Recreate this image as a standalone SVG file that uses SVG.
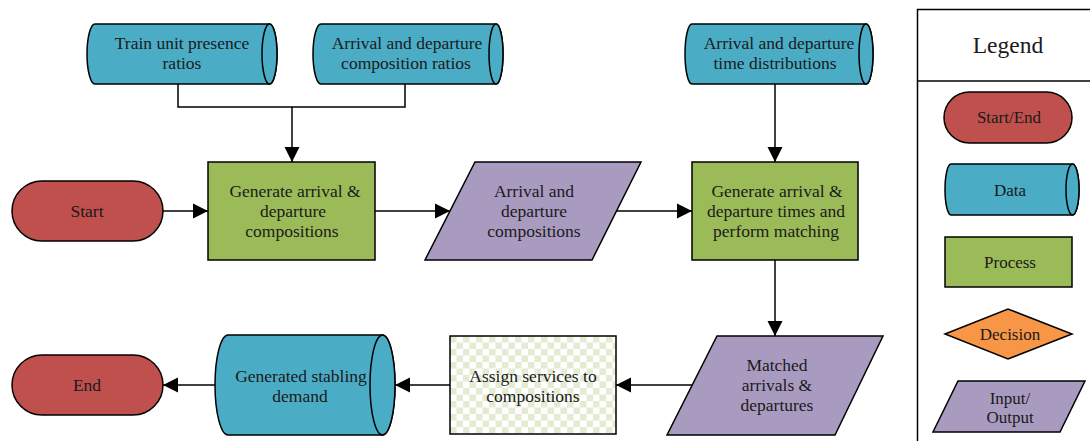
<svg xmlns="http://www.w3.org/2000/svg" width="1090" height="441" viewBox="0 0 1090 441">
  <defs>
    <style>
      .shape { stroke: #000; stroke-width: 1.5; stroke-linejoin: miter; }
      .term { fill: #C0504D; }
      .data { fill: #4BACC6; }
      .proc { fill: #9BBB59; }
      .dec { fill: #F79646; }
      .io { fill: #A99BC0; }
      .conn { fill: none; stroke: #000; stroke-width: 1.5; }
      .lbl { font-size: 17.5px; fill: #1a1a1a; text-anchor: middle; }
      .key { font-size: 17px; }
      .title { font-size: 23.5px; }
    </style>
    <marker id="arrow" markerUnits="userSpaceOnUse" markerWidth="16" markerHeight="16" viewBox="0 0 16 16" refX="15" refY="8" orient="auto">
      <path d="M0,0.5 L15,8 L0,15.5 Z" fill="#000"/>
    </marker>
    <pattern id="checker" patternUnits="userSpaceOnUse" x="450" y="336" width="13" height="13">
      <rect width="13" height="13" fill="#fff"/>
      <rect width="6.5" height="6.5" fill="#E3EBD2"/>
      <rect x="6.5" y="6.5" width="6.5" height="6.5" fill="#E3EBD2"/>
    </pattern>
  </defs>

  <!-- connectors -->
  <g id="connectors">
    <path class="conn" d="M178,84 V107 H405 V84"/>
    <path class="conn" d="M292,107 V162" marker-end="url(#arrow)"/>
    <path class="conn" d="M163,211 H208" marker-end="url(#arrow)"/>
    <path class="conn" d="M375,211 H450" marker-end="url(#arrow)"/>
    <path class="conn" d="M617,211 H692" marker-end="url(#arrow)"/>
    <path class="conn" d="M775,84 V162" marker-end="url(#arrow)"/>
    <path class="conn" d="M775,260 V336" marker-end="url(#arrow)"/>
    <path class="conn" d="M692,385 H616" marker-end="url(#arrow)"/>
    <path class="conn" d="M450,385 H395" marker-end="url(#arrow)"/>
    <path class="conn" d="M215,385 H163" marker-end="url(#arrow)"/>
  </g>

  <g font-family="Liberation Serif, Times New Roman, serif" class="lbl">
  <!-- data stores -->
  <g id="data-presence">
    <path class="shape data" d="M95,24 H269.5 A7.5,30 0 0 1 269.5,84 H95 A8,30 0 0 1 95,24 Z"/>
    <ellipse class="shape data" cx="269.5" cy="54" rx="7.5" ry="30"/>
    <text x="182" y="49">Train unit presence</text>
    <text x="182" y="69">ratios</text>
  </g>
  <g id="data-composition">
    <path class="shape data" d="M321,24 H496 A7,30 0 0 1 496,84 H321 A8,30 0 0 1 321,24 Z"/>
    <ellipse class="shape data" cx="496" cy="54" rx="7" ry="30"/>
    <text x="407" y="49">Arrival and departure</text>
    <text x="406" y="69">composition ratios</text>
  </g>
  <g id="data-times">
    <path class="shape data" d="M692,24 H866 A7,30 0 0 1 866,84 H692 A7,30 0 0 1 692,24 Z"/>
    <ellipse class="shape data" cx="866" cy="54" rx="7" ry="30"/>
    <text x="779" y="49">Arrival and departure</text>
    <text x="775" y="69">time distributions</text>
  </g>

  <!-- terminals -->
  <g id="start">
    <rect class="shape term" x="12" y="181" width="151" height="60" rx="30"/>
    <text x="87" y="217">Start</text>
  </g>
  <g id="end">
    <rect class="shape term" x="12" y="355" width="151" height="60" rx="30"/>
    <text x="87" y="391">End</text>
  </g>

  <!-- processes -->
  <g id="gen-compositions">
    <rect class="shape proc" x="208" y="162" width="167" height="98"/>
    <text x="295" y="197">Generate arrival &amp;</text>
    <text x="293" y="217">departure</text>
    <text x="292" y="237">compositions</text>
  </g>
  <g id="gen-times">
    <rect class="shape proc" x="692" y="162" width="166" height="98"/>
    <text x="777" y="197">Generate arrival &amp;</text>
    <text x="776" y="217">departure times and</text>
    <text x="776" y="237">perform matching</text>
  </g>
  <g id="assign-services">
    <rect class="shape" fill="url(#checker)" x="450" y="336" width="166" height="98"/>
    <text x="533" y="382">Assign services to</text>
    <text x="533" y="402">compositions</text>
  </g>

  <!-- input / output -->
  <g id="io-compositions">
    <path class="shape io" d="M475,162 H641 L592,260 H425 Z"/>
    <text x="534" y="197">Arrival and</text>
    <text x="534" y="217">departure</text>
    <text x="534" y="237">compositions</text>
  </g>
  <g id="io-matched">
    <path class="shape io" d="M717,336 H883 L835,435 H667 Z"/>
    <text x="777" y="371">Matched</text>
    <text x="777" y="391">arrivals &amp;</text>
    <text x="777" y="411">departures</text>
  </g>

  <g id="data-stabling">
    <path class="shape data" d="M228,335 H382.5 A12.5,50 0 0 1 382.5,435 H228 A13,50 0 0 1 228,335 Z"/>
    <ellipse class="shape data" cx="382.5" cy="385" rx="12.5" ry="50"/>
    <text x="301" y="382">Generated stabling</text>
    <text x="300" y="402">demand</text>
  </g>

  <!-- legend -->
  <g id="legend">
    <rect x="917.5" y="9.5" width="190" height="450" fill="#fff" stroke="#000" stroke-width="1.5"/>
    <line x1="917.5" y1="81" x2="1090" y2="81" stroke="#000" stroke-width="1.5"/>
    <text class="title" x="1008" y="53">Legend</text>
    <rect class="shape term" x="944" y="92" width="128" height="51" rx="25.5"/>
    <text class="key" x="1009" y="123">Start/End</text>
    <path class="shape data" d="M951,164 H1072.5 A6.5,25.5 0 0 1 1072.5,215 H951 A6,25.5 0 0 1 951,164 Z"/>
    <ellipse class="shape data" cx="1072.5" cy="189.5" rx="6.5" ry="25.5"/>
    <text class="key" x="1010" y="196">Data</text>
    <rect class="shape proc" x="945" y="237" width="127" height="50"/>
    <text class="key" x="1010" y="268">Process</text>
    <path class="shape dec" d="M945,334 L1008,309 L1072,334 L1008,359 Z"/>
    <text class="key" x="1010" y="340">Decision</text>
    <path class="shape io" d="M958,381 H1085 L1060,432 H933 Z"/>
    <text class="key" x="1010" y="404">Input/</text>
    <text class="key" x="1010" y="423">Output</text>
  </g>
  </g>
</svg>
